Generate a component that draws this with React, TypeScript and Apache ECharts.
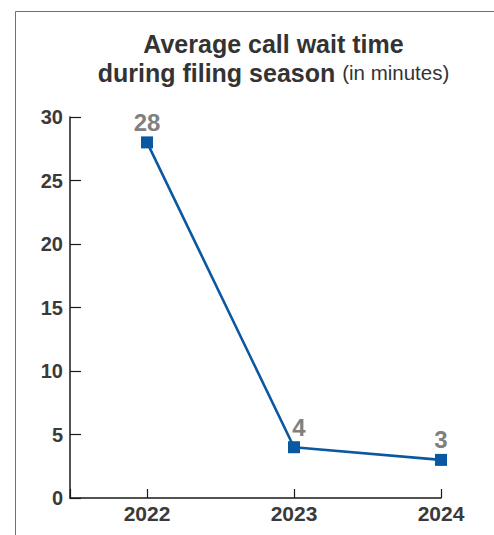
import React, { useEffect, useRef } from "react";
import * as echarts from "echarts";

const years = [2022, 2023, 2024];
const waitMinutes = [28, 4, 3];
const yTicks = { min: 0, max: 30, interval: 5 };
const titleMain = "Average call wait time";
const titleSub = "during filing season";
const titleUnit = "(in minutes)";

const FONT = "'Liberation Sans', Arial, Helvetica, sans-serif";

export default function App() {
  const ref = useRef<HTMLDivElement>(null);
  useEffect(() => {
    if (!ref.current) return;
    const chart = echarts.init(ref.current, null, { renderer: "svg" });
    const seriesData = years.map((y, i) => ({
      value: [y, waitMinutes[i]],
      label: i === 1 ? { offset: [5, 0] } : undefined,
    }));
    chart.setOption({
      animation: false,
      backgroundColor: "#ffffff",
      textStyle: { fontFamily: FONT },
      graphic: [
        {
          type: "line",
          shape: { x1: 15.5, y1: 11.5, x2: 494, y2: 11.5 },
          style: { stroke: "#5673a3", lineWidth: 1 },
          silent: true,
        },
        {
          type: "line",
          shape: { x1: 15.5, y1: 11.5, x2: 15.5, y2: 535 },
          style: { stroke: "#5673a3", lineWidth: 1 },
          silent: true,
        },
        {
          type: "text",
          x: 273.5,
          y: 29,
          style: {
            text: `{b|${titleMain}}\n{b|${titleSub} }{r|${titleUnit}}`,
            align: "center",
            verticalAlign: "top",
            rich: {
              b: { fontFamily: FONT, fontSize: 25, fontWeight: "bold", fill: "#333333", lineHeight: 29 },
              r: { fontFamily: FONT, fontSize: 20.5, fontWeight: "normal", fill: "#333333", lineHeight: 29 },
            },
          },
        },
      ],
      grid: { left: 70, right: 53, top: 117, bottom: 37, containLabel: false, outerBoundsMode: "none" },
      xAxis: {
        type: "value",
        min: 2021.476,
        max: 2024,
        splitNumber: 3,
        splitLine: { show: false },
        axisLine: { show: true, lineStyle: { color: "#1a1a1a", width: 1.5 } },
        axisTick: { show: true, inside: true, length: 9, lineStyle: { color: "#1a1a1a", width: 1.2 } },
        axisLabel: {
          margin: 5,
          fontFamily: FONT,
          fontSize: 21,
          fontWeight: "bold",
          color: "#3a3a3a",
          lineHeight: 20,
          showMinLabel: true,
          showMaxLabel: true,
          formatter: (v: number) => (Math.abs(v - Math.round(v)) < 1e-6 ? String(Math.round(v)) : ""),
        },
      },
      yAxis: {
        type: "value",
        min: yTicks.min,
        max: yTicks.max,
        interval: yTicks.interval,
        splitLine: { show: false },
        axisLine: { show: true, lineStyle: { color: "#1a1a1a", width: 1.5 } },
        axisTick: { show: true, inside: true, length: 11, lineStyle: { color: "#1a1a1a", width: 1.2 } },
        axisLabel: {
          margin: 7,
          fontFamily: FONT,
          fontSize: 20,
          fontWeight: "bold",
          color: "#3a3a3a",
          lineHeight: 20,
          padding: [4, 0, 0, 0],
        },
      },
      series: [
        {
          type: "line",
          data: seriesData,
          symbol: "rect",
          symbolSize: 12,
          lineStyle: { color: "#0a58a0", width: 2.6 },
          itemStyle: { color: "#0a58a0" },
          label: {
            show: true,
            position: "top",
            distance: 2,
            fontFamily: FONT,
            fontSize: 24,
            fontWeight: "bold",
            color: "#808080",
            formatter: (p: any) => String(p.value[1]),
          },
        },
      ],
    });
    return () => chart.dispose();
  }, []);
  return (
    <div
      ref={ref}
      style={{ position: "absolute", left: 0, top: 0, width: 494, height: 535 }}
    />
  );
}
